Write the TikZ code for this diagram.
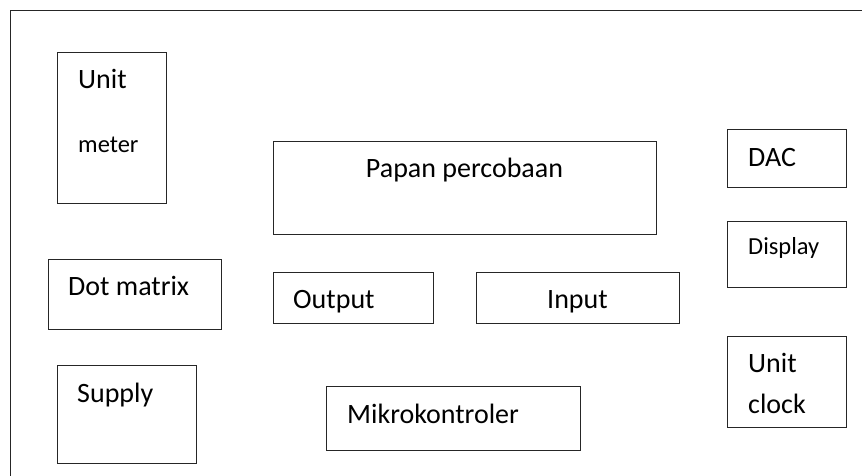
\documentclass[tikz,border=0pt]{standalone}
\usepackage{fontspec}
\setmainfont{Carlito}

\begin{document}
\begin{tikzpicture}[x=1pt,y=-1pt]
	\tikzstyle{block} = [rectangle,draw=black!85,line width=0.9pt,inner sep=0pt,anchor=north west]
	\tikzstyle{txt} = [inner sep=0pt,anchor=base west,font=\fontsize{28}{34}\selectfont]
	\tikzstyle{smalltxt} = [txt,font=\fontsize{24.5}{30}\selectfont]
	\useasboundingbox (0,0) rectangle (862,476);
	% outer frame
	\draw[draw=black!85,line width=1.2pt] (862,10.5) -- (10.5,10.5) -- (10.5,476);
	% left column
	\node[block,minimum width=109pt,minimum height=151pt] (meter) at (57,52) {};
	\node[txt] (meter-a) at (78,89) {Unit};
	\node[smalltxt] (meter-b) at (78,153) {meter};
	\node[block,minimum width=173pt,minimum height=70pt] (dotmatrix) at (48,259) {};
	\node[txt] (dotmatrix-t) at (68,295) {Dot matrix};
	\node[block,minimum width=139pt,minimum height=98pt] (supply) at (57,365) {};
	\node[txt] (supply-t) at (77,402) {Supply};
	% middle
	\node[block,minimum width=383pt,minimum height=93pt] (papan) at (273,141) {};
	\node[txt,anchor=base] (papan-t) at (464.5,178) {Papan percobaan};
	\node[block,minimum width=160pt,minimum height=51pt] (output) at (273,272) {};
	\node[txt] (output-t) at (293,308) {Output};
	\node[block,minimum width=203pt,minimum height=51pt] (input) at (476,272) {};
	\node[txt,anchor=base] (input-t) at (577.5,308) {Input};
	\node[block,minimum width=254pt,minimum height=64pt] (mikro) at (326,386) {};
	\node[txt] (mikro-t) at (347,423) {Mikrokontroler};
	% right column
	\node[block,minimum width=119pt,minimum height=58pt] (dac) at (727,129) {};
	\node[txt] (dac-t) at (748,166) {DAC};
	\node[block,minimum width=119pt,minimum height=66pt] (display) at (727,221) {};
	\node[smalltxt] (display-t) at (748,254) {Display};
	\node[block,minimum width=119pt,minimum height=91pt] (clock) at (727,336) {};
	\node[txt] (clock-a) at (748,372) {Unit};
	\node[txt] (clock-b) at (748,413) {clock};
\end{tikzpicture}
\end{document}
